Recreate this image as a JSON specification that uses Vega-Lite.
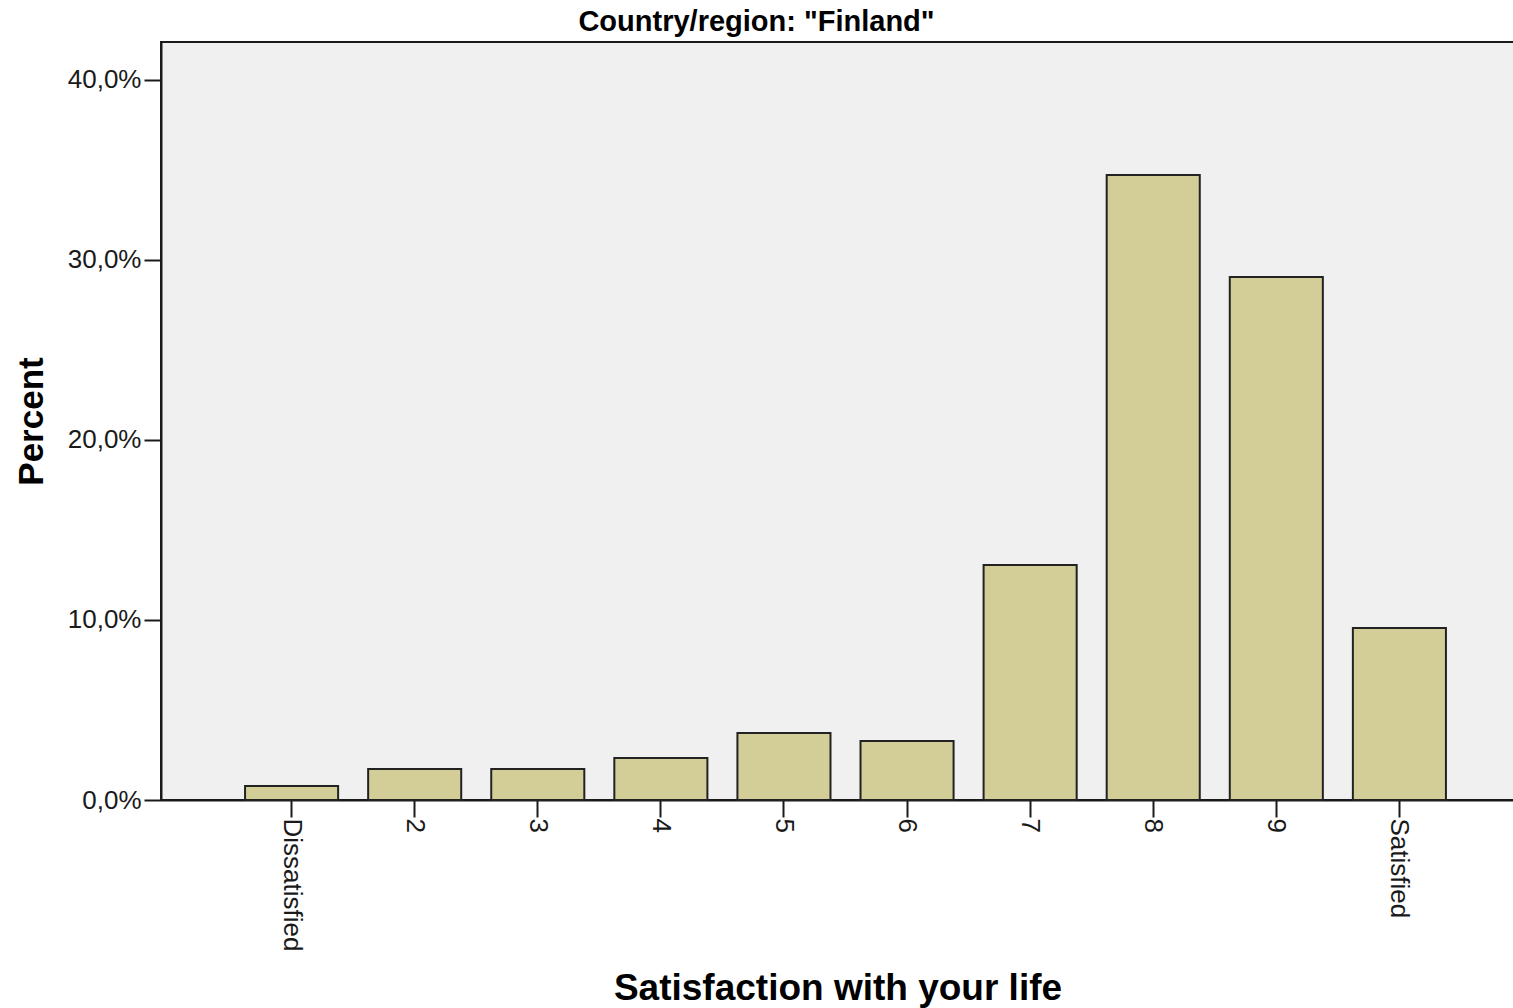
{
  "$schema": "https://vega.github.io/schema/vega-lite/v6.json",
  "width": 1353,
  "height": 758,
  "autosize": "none",
  "padding": {"left": 161, "top": 42, "right": 0, "bottom": 208},
  "background": "white",
  "title": {
    "text": "Country/region: \"Finland\"",
    "font": "Liberation Sans",
    "fontSize": 29,
    "fontWeight": "bold",
    "color": "#000000",
    "anchor": "middle",
    "dx": -81,
    "offset": 5
  },
  "config": {
    "view": {"fill": "#f0f0f0", "stroke": "#1a1a1a", "strokeWidth": 2},
    "axis": {
      "grid": false,
      "domainColor": "#1a1a1a",
      "domainWidth": 2,
      "tickColor": "#1a1a1a",
      "tickWidth": 2,
      "tickSize": 17,
      "labelFont": "Liberation Sans",
      "labelFontSize": 26,
      "labelColor": "#1a1a1a",
      "titleFont": "Liberation Sans",
      "titleFontWeight": "bold",
      "titleColor": "#000000"
    }
  },
  "data": {
    "values": [
      {"category": "Dissatisfied", "percent": 0.78},
      {"category": "2", "percent": 1.72},
      {"category": "3", "percent": 1.72},
      {"category": "4", "percent": 2.33},
      {"category": "5", "percent": 3.72},
      {"category": "6", "percent": 3.28},
      {"category": "7", "percent": 13.06},
      {"category": "8", "percent": 34.72},
      {"category": "9", "percent": 29.06},
      {"category": "Satisfied", "percent": 9.56}
    ]
  },
  "mark": {"type": "bar", "fill": "#d3ce97", "stroke": "#222222", "strokeWidth": 2},
  "encoding": {
    "x": {
      "field": "category",
      "type": "nominal",
      "sort": null,
      "scale": {"paddingInner": 0.2439, "paddingOuter": 0.6179, "align": 0.5526},
      "axis": {
        "title": "Satisfaction with your life",
        "titleFontSize": 37,
        "titlePadding": 20,
        "labelAngle": 90,
        "labelAlign": "left",
        "labelBaseline": "middle",
        "labelPadding": 1
      }
    },
    "y": {
      "field": "percent",
      "type": "quantitative",
      "scale": {"domain": [0, 42.11], "nice": false},
      "axis": {
        "title": "Percent",
        "titleFontSize": 35,
        "titlePadding": 18,
        "values": [0, 10, 20, 30, 40],
        "labelPadding": 3,
        "labelExpr": "replace(format(datum.value, '.1f'), '.', ',') + '%'"
      }
    }
  }
}
